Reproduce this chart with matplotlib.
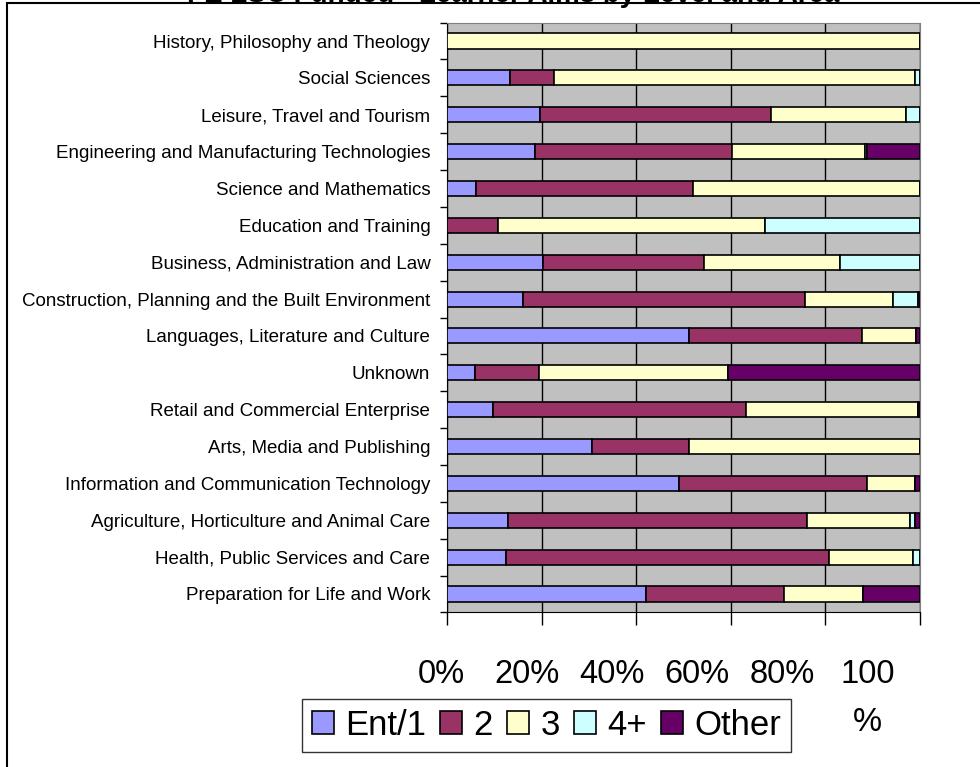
import numpy as np
import matplotlib.pyplot as plt
from matplotlib.patches import Rectangle

plt.rcParams['font.family'] = ['Liberation Sans', 'DejaVu Sans']

# categories, top to bottom as in the chart
areas = ['History, Philosophy and Theology', 'Social Sciences',
         'Leisure, Travel and Tourism',
         'Engineering and Manufacturing Technologies',
         'Science and Mathematics', 'Education and Training',
         'Business, Administration and Law',
         'Construction, Planning and the Built Environment',
         'Languages, Literature and Culture', 'Unknown',
         'Retail and Commercial Enterprise', 'Arts, Media and Publishing',
         'Information and Communication Technology',
         'Agriculture, Horticulture and Animal Care',
         'Health, Public Services and Care', 'Preparation for Life and Work']

# shares in percent
ent1 = [0, 13.3, 19.7, 18.7, 6.1, 0, 20.3, 16.0, 51.1, 5.9, 9.8, 30.7, 49.0, 12.8, 12.4, 42.1]
lvl2 = [0, 9.3, 48.8, 41.6, 46.0, 10.7, 34.0, 59.6, 36.6, 13.5, 53.5, 20.4, 39.8, 63.3, 68.4, 29.1]
lvl3 = [100, 76.3, 28.5, 28.1, 47.9, 56.5, 28.8, 18.7, 11.5, 40.1, 36.2, 48.9, 10.1, 21.8, 17.8, 16.8]
lvl4 = [0, 1.1, 3.0, 0.5, 0, 32.8, 16.9, 5.2, 0, 0, 0, 0, 0, 1.0, 1.4, 0]
other = [0, 0, 0, 11.1, 0, 0, 0, 0.5, 0.8, 40.5, 0.5, 0, 1.1, 1.1, 0, 12.0]

series = [('Ent/1', ent1, '#9999FF'), ('2', lvl2, '#993366'),
          ('3', lvl3, '#FFFFCC'), ('4+', lvl4, '#CCFFFF'),
          ('Other', other, '#660066')]
tick_labels = ['0%', '20%', '40%', '60%', '80%', '100\n%']

W, H = 980, 767
fig = plt.figure(figsize=(W / 100, H / 100), dpi=100)
ax = fig.add_axes([447 / W, 1 - 612.4 / H, 473 / W, 589.8 / H])
ax.set_facecolor('#C0C0C0')

y = np.arange(len(areas))
left = np.zeros(len(areas))
handles = []
for name, vals, col in series:
    vals = np.array(vals, dtype=float)
    b = ax.barh(y, vals, left=left, height=0.41, color=col,
                edgecolor='black', linewidth=1.2, label=name, zorder=3)
    handles.append(b)
    left += vals

ax.set_xlim(0, 100)
ax.set_ylim(len(areas) - 0.5, -0.5)
ax.set_xticks(np.arange(0, 101, 20))
ax.set_xticklabels([])
ax.tick_params(axis='x', length=9.5, width=1, direction='out')
ax.xaxis.grid(True, color='black', linewidth=1, zorder=1)

ax.set_yticks(y)
ax.set_yticklabels(areas, fontsize=13.5)
ax.tick_params(axis='y', which='major', length=0, pad=12)
ax.set_yticks(np.arange(len(areas) + 1) - 0.5, minor=True)
ax.tick_params(axis='y', which='minor', length=5, width=1, direction='out')

for s in ['top', 'right']:
    ax.spines[s].set_color('#808080')
for s in ['left', 'bottom']:
    ax.spines[s].set_color('black')

# x tick labels (Excel draws them squeezed to the left)
for i, t in enumerate(tick_labels):
    fig.text((441.5 + i * 85.2) / W, 1 - 659 / H, t, ha='center', va='top',
             fontsize=23.5, linespacing=1.72, transform=fig.transFigure)

leg = fig.legend(handles=handles, loc='center', bbox_to_anchor=(546.5 / W, 1 - 725.5 / H),
                 ncol=5, fontsize=25, frameon=True, fancybox=False,
                 handlelength=0.63, handleheight=0.63, handletextpad=0.32,
                 columnspacing=0.42, borderpad=0.28, borderaxespad=0)
leg.get_frame().set_edgecolor('black')
leg.get_frame().set_linewidth(1)

fig.patches.append(Rectangle((7 / W, -0.1), 1.2, 1 - 3 / H + 0.1, transform=fig.transFigure,
                             fill=False, edgecolor='black', linewidth=1.5))
fig.text(513.5 / W, 1 - 2 / H, 'FE LSC Funded - Learner Aims by Level and Area',
         ha='center', va='baseline', fontsize=20, fontweight='bold')

fig.savefig('out.png', dpi=100)
